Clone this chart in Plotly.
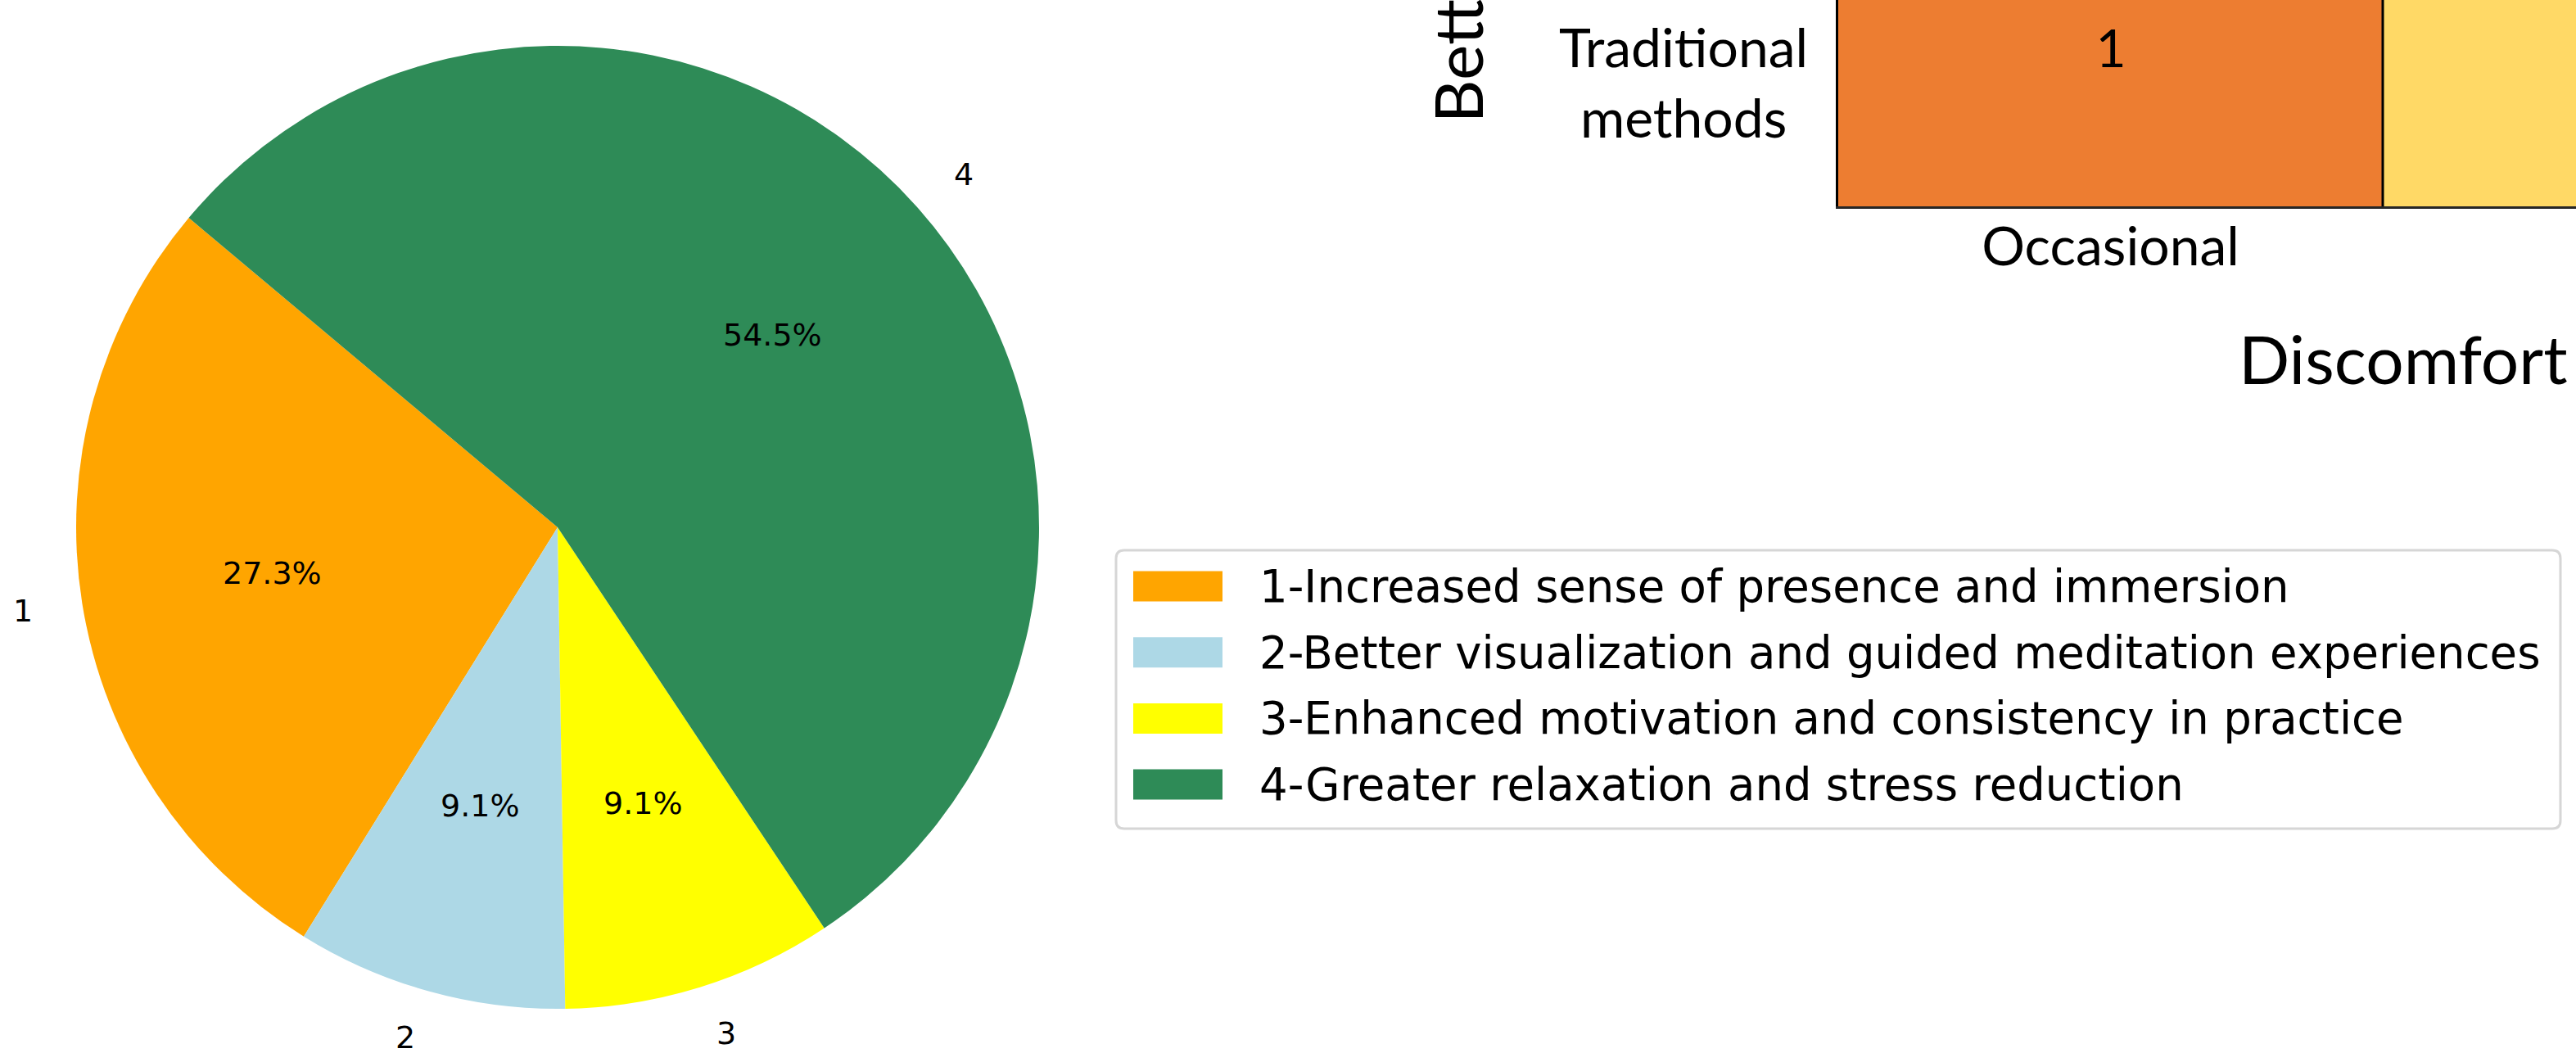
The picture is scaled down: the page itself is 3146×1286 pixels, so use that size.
import math
import plotly.graph_objects as go

W, H = 3146, 1286

# ---------------- pie: reported benefits ----------------
slice_labels = ["1", "2", "3", "4"]
slice_counts = [3, 1, 1, 6]
slice_colors = ["#FFA500", "#ADD8E6", "#FFFF00", "#2E8B57"]
legend_texts = [
    "1-Increased sense of presence and immersion",
    "2-Better visualization and guided meditation experiences",
    "3-Enhanced motivation and consistency in practice",
    "4-Greater relaxation and stress reduction",
]
start_angle = 140  # degrees, counterclockwise from 3 o'clock

# ---------------- heatmap fragment ----------------
hm_rows = ["Traditional<br>methods"]
hm_cols = ["Occasional"]
hm_values = [[1, 2]]
hm_colors = ["#ED7D31", "#FFD966"]
hm_x_title = "Discomfort"
hm_y_title = "Better"


def fx(px):
    return px / W


def fy(py):
    return 1 - py / H


fig = go.Figure()

# pie geometry in page pixels
pie_cx, pie_cy, pie_r = 681, 644, 588
pie_dom_x = [fx(pie_cx - pie_r), fx(pie_cx + pie_r)]
pie_dom_y = [fy(pie_cy + pie_r), fy(pie_cy - pie_r)]

total = sum(slice_counts)
# plotly's counterclockwise pies pivot on the edge between the first and
# second slice, so place that edge where the first slice should end
first_end = start_angle + 360.0 * slice_counts[0] / total

fig.add_trace(go.Pie(
    labels=slice_labels, values=slice_counts,
    marker=dict(colors=slice_colors, line=dict(width=0)),
    sort=False, direction="counterclockwise", rotation=90 - first_end,
    textinfo="none", hoverinfo="label+percent",
    domain=dict(x=pie_dom_x, y=pie_dom_y), showlegend=False,
))

fig.add_trace(go.Heatmap(
    z=hm_values, x=[0, 1], y=[0],
    colorscale=[[0, hm_colors[0]], [1, hm_colors[1]]], zmin=1, zmax=2,
    showscale=False, texttemplate="%{z}",
    textfont=dict(family="Lato", size=64, color="black"),
    hoverinfo="z", xaxis="x", yaxis="y",
))

annotations = []
shapes = []

# slice labels (outside) and percentages (inside), placed on an overlay axis
# whose unit equals the pie radius and whose origin is the pie centre
pie_font = dict(family="DejaVu Sans", size=38, color="black")
angle = start_angle
for lab, cnt in zip(slice_labels, slice_counts):
    span = 360.0 * cnt / total
    mid = math.radians(angle + span / 2)
    cx, cy = math.cos(mid), math.sin(mid)
    annotations.append(dict(
        x=1.1 * cx, y=1.1 * cy, xref="x2", yref="y2", text=lab,
        xanchor="left" if cx > 0 else "right", yanchor="middle",
        showarrow=False, font=pie_font,
    ))
    annotations.append(dict(
        x=0.6 * cx, y=0.6 * cy, xref="x2", yref="y2",
        text=f"{100.0 * cnt / total:.1f}%",
        xanchor="center", yanchor="middle", showarrow=False, font=pie_font,
    ))
    angle += span

ov_right = 1500
ov_x_dom = [0, fx(ov_right)]
ov_x_rng = [-pie_cx / pie_r, (ov_right - pie_cx) / pie_r]
ov_y_dom = [0, 1]
ov_y_rng = [-(H - pie_cy) / pie_r, pie_cy / pie_r]

# legend frame with rounded corners
lx0, ly0, lx1, ly1, rad = 1363, 672, 3127, 1012, 10
rx, ry = rad / W, rad / H
X0, X1, Y0, Y1 = fx(lx0), fx(lx1), fy(ly0), fy(ly1)
path = (
    f"M{X0 + rx},{Y0} H{X1 - rx} Q{X1},{Y0} {X1},{Y0 - ry} "
    f"V{Y1 + ry} Q{X1},{Y1} {X1 - rx},{Y1} H{X0 + rx} "
    f"Q{X0},{Y1} {X0},{Y1 + ry} V{Y0 - ry} Q{X0},{Y0} {X0 + rx},{Y0} Z"
)
shapes.append(dict(type="path", path=path, xref="paper", yref="paper",
                   line=dict(color="#d6d6d6", width=3), fillcolor="white",
                   layer="below"))

legend_font = dict(family="DejaVu Sans", size=54.5, color="black")
row_step = 80.7
for i, (txt, col) in enumerate(zip(legend_texts, slice_colors)):
    yc = 716 + i * row_step
    shapes.append(dict(type="rect", xref="paper", yref="paper",
                       x0=fx(1384), x1=fx(1493), y0=fy(yc + 18.5), y1=fy(yc - 18.5),
                       fillcolor=col, line=dict(width=0)))
    annotations.append(dict(x=fx(1536), y=fy(yc), xref="paper", yref="paper",
                            text=txt, xanchor="left", yanchor="middle",
                            showarrow=False, font=legend_font))

# heatmap fragment: cell separator, row label and axis titles
shapes.append(dict(type="line", xref="x", yref="y domain", x0=0.5, x1=0.5,
                   y0=0, y1=1, line=dict(color="black", width=3)))
annotations.append(dict(x=fx(2056), y=0, xref="paper", yref="y", yshift=-39,
                        text=hm_rows[0], align="center", xanchor="center",
                        yanchor="middle", showarrow=False,
                        font=dict(family="Lato", size=66, color="black")))
annotations.append(dict(x=fx(2935), y=fy(437), xref="paper", yref="paper",
                        text=hm_x_title, xanchor="center", yanchor="middle",
                        showarrow=False,
                        font=dict(family="Lato", size=82, color="black")))
annotations.append(dict(x=fx(1779), y=fy(152), xref="paper", yref="paper",
                        text=hm_y_title, textangle=-90, xanchor="center",
                        yanchor="bottom", showarrow=False,
                        font=dict(family="Lato", size=82, color="black")))

cell_w = 665
cell_h = 384
hm_left = 2245
hm_bottom = 252

fig.update_layout(
    width=W, height=H,
    margin=dict(l=0, r=0, t=0, b=0),
    paper_bgcolor="white", plot_bgcolor="rgba(0,0,0,0)",
    showlegend=False,
    xaxis=dict(domain=[fx(hm_left), 1], range=[-0.5, -0.5 + (W - hm_left) / cell_w],
               tickvals=[0], ticktext=hm_cols, ticks="", ticklabelstandoff=-10,
               tickfont=dict(family="Lato", size=66, color="black"),
               showline=True, linecolor="#262626", linewidth=3,
               showgrid=False, zeroline=False, anchor="y", fixedrange=True),
    yaxis=dict(domain=[fy(hm_bottom), 1], range=[-0.5, -0.5 + hm_bottom / cell_h],
               showticklabels=False, ticks="",
               showline=True, linecolor="black", linewidth=3,
               showgrid=False, zeroline=False, anchor="x", fixedrange=True),
    xaxis2=dict(domain=ov_x_dom, range=ov_x_rng, visible=False, anchor="y2",
                fixedrange=True),
    yaxis2=dict(domain=ov_y_dom, range=ov_y_rng, visible=False, anchor="x2",
                fixedrange=True),
    annotations=annotations,
    shapes=shapes,
)

fig.write_html("out.html")
